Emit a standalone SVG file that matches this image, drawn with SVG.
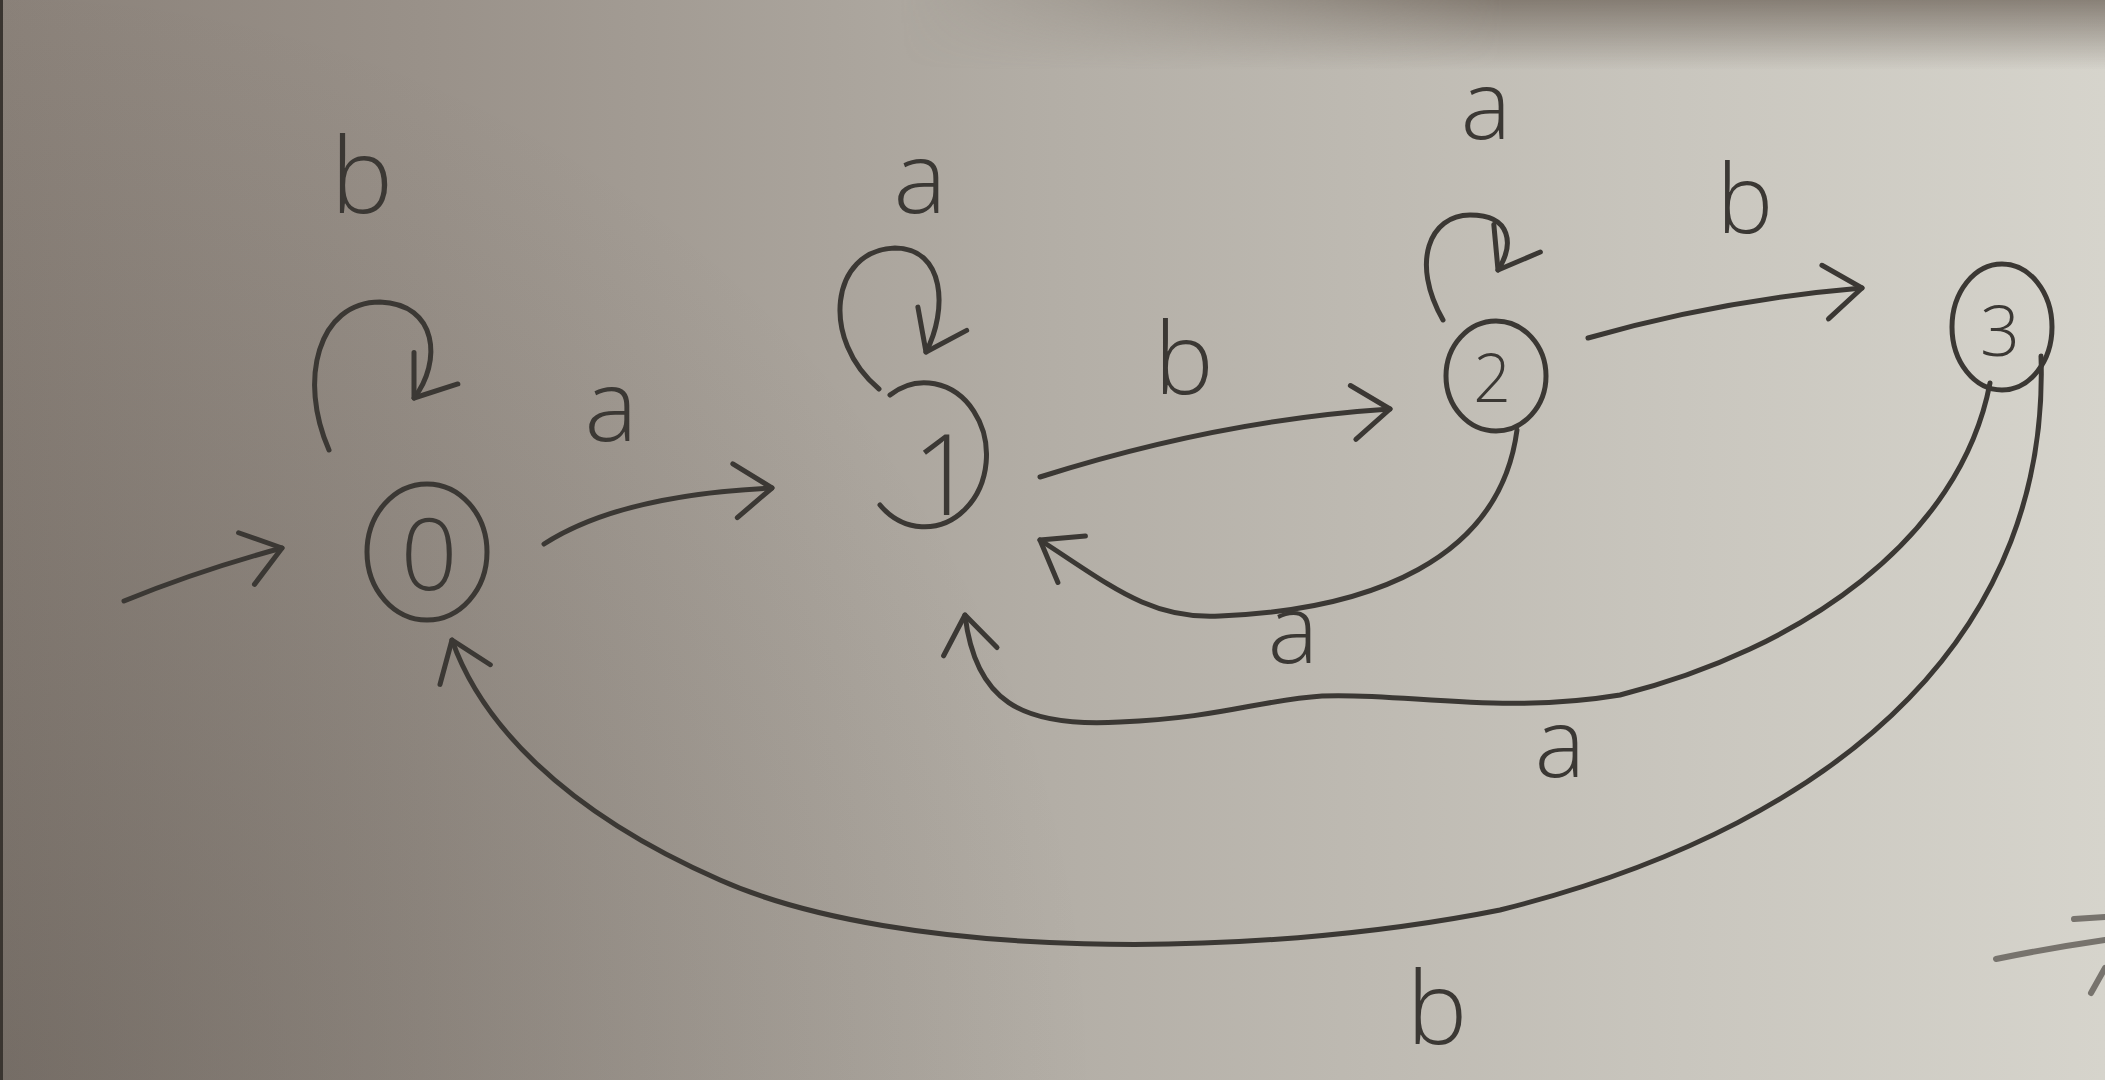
<svg xmlns="http://www.w3.org/2000/svg" width="2105" height="1080" viewBox="0 0 2105 1080">
<defs>
<linearGradient id="paper" x1="0" y1="0" x2="1" y2="0">
<stop offset="0" stop-color="#8a8179"/>
<stop offset="0.2" stop-color="#999189"/>
<stop offset="0.5" stop-color="#b3aea6"/>
<stop offset="0.8" stop-color="#c9c6be"/>
<stop offset="1" stop-color="#d6d4cc"/>
</linearGradient>
<radialGradient id="corner" cx="0" cy="1080" r="1100" gradientUnits="userSpaceOnUse">
<stop offset="0" stop-color="#2a2520" stop-opacity="0.22"/>
<stop offset="1" stop-color="#2a2520" stop-opacity="0"/>
</radialGradient>
<linearGradient id="topband" x1="0" y1="0" x2="0" y2="1">
<stop offset="0" stop-color="#6f655b" stop-opacity="0.75"/>
<stop offset="1" stop-color="#6f655b" stop-opacity="0"/>
</linearGradient>
<linearGradient id="fadeh" x1="0" y1="0" x2="1" y2="0">
<stop offset="0" stop-color="#fff" stop-opacity="0"/>
<stop offset="0.5" stop-color="#fff" stop-opacity="1"/>
<stop offset="1" stop-color="#fff" stop-opacity="1"/>
</linearGradient>
<mask id="topmask" maskUnits="userSpaceOnUse" x="0" y="0" width="2105" height="80">
<rect x="900" y="0" width="1205" height="80" fill="url(#fadeh)"/>
</mask>
<marker id="arr" viewBox="-50 -35 60 70" refX="0" refY="0" markerWidth="60" markerHeight="70" markerUnits="userSpaceOnUse" orient="auto">
<path d="M -38 -26 L 0 0 L -36 28" fill="none" stroke="#3b3834" stroke-width="5" stroke-linecap="round" stroke-linejoin="round"/>
</marker>
<style>
.ink{fill:none;stroke:#3b3834;stroke-width:5;stroke-linecap:round;stroke-linejoin:round}
.faint{fill:none;stroke:#77736d;stroke-width:6;stroke-linecap:round}
.edge{fill:none;stroke:#3b3834;stroke-width:5;stroke-linecap:round;marker-end:url(#arr)}
.lbl{font-family:"Open Sans","DejaVu Sans",sans-serif;font-weight:300;fill:#3b3834;text-anchor:middle}
.dig{font-family:"Open Sans","DejaVu Sans",sans-serif;font-weight:300;fill:#3b3834;text-anchor:middle}
</style>
</defs>
<rect width="2105" height="1080" fill="url(#paper)"/>
<rect width="2105" height="1080" fill="url(#corner)"/>
<rect x="0" y="0" width="2105" height="70" fill="url(#topband)" mask="url(#topmask)"/>
<rect x="0" y="0" width="3" height="1080" fill="#3a3530"/>

<g id="node0">
<ellipse cx="427" cy="552" rx="60" ry="68" class="ink"/>
<text x="429" y="590" class="dig" font-size="100">0</text>
</g>
<g id="node1">
<path d="M 890 395 A 62 72 0 1 1 880 505" class="ink"/>
<text x="944" y="515" class="dig" font-size="112">1</text>
</g>
<g id="node2">
<ellipse cx="1496" cy="376" rx="50" ry="55" class="ink"/>
<text x="1492" y="402" class="dig" font-size="66">2</text>
</g>
<g id="node3">
<ellipse cx="2002" cy="327" rx="50" ry="63" class="ink"/>
<text x="2000" y="356" class="dig" font-size="70">3</text>
</g>

<g id="connectors">
<path id="start" d="M 124 601 Q 200 570 282 548" class="edge"/>
<path id="loop0" d="M 329 450 C 298 380, 318 302, 380 302 C 438 304, 442 362, 414 398" class="edge"/>
<path id="e01" d="M 544 544 Q 620 495 772 488" class="edge"/>
<path id="loop1" d="M 879 389 C 820 340, 830 250, 895 248 C 945 248, 948 310, 926 352" class="edge"/>
<path id="e12" d="M 1040 477 Q 1220 420 1390 409" class="edge"/>
<path id="loop2" d="M 1443 320 C 1410 262, 1430 215, 1470 215 C 1512 215, 1514 245, 1498 270" class="edge"/>
<path id="e23" d="M 1588 338 Q 1720 300 1862 288" class="edge"/>
<path id="e21" d="M 1517 430 C 1500 560, 1370 610, 1220 616 C 1150 620, 1110 585, 1040 540" class="edge"/>
<path id="e31" d="M 1990 383 C 1960 540, 1800 650, 1620 695 C 1500 715, 1400 692, 1322 696 C 1260 700, 1220 718, 1120 722 C 1020 728, 975 700, 965 615" class="edge"/>
<path id="e30" d="M 2041 356 C 2050 620, 1860 820, 1500 910 C 1250 960, 900 960, 720 880 C 560 810, 480 720, 452 640" class="edge"/>
</g>

<g id="labels">
<text x="362" y="213" class="lbl" font-size="105">b</text>
<text x="611" y="441" class="lbl" font-size="100">a</text>
<text x="920" y="213" class="lbl" font-size="100">a</text>
<text x="1184" y="394" class="lbl" font-size="100">b</text>
<text x="1486" y="139" class="lbl" font-size="95">a</text>
<text x="1745" y="233" class="lbl" font-size="95">b</text>
<text x="1293" y="663" class="lbl" font-size="95">a</text>
<text x="1560" y="777" class="lbl" font-size="95">a</text>
<text x="1437" y="1044" class="lbl" font-size="102">b</text>
</g>

<g id="scribble">
<path d="M 1996 959 Q 2050 948 2105 940" class="faint"/>
<path d="M 2074 919 L 2105 917" class="faint"/>
<path d="M 2091 993 L 2105 968" class="faint"/>
</g>
</svg>
